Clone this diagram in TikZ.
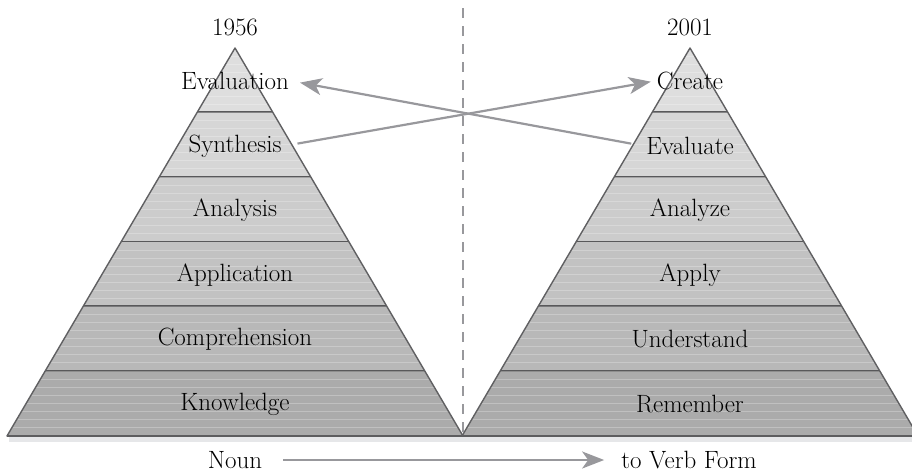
\documentclass[tikz,border=0pt]{standalone}
\usetikzlibrary{arrows.meta}
\definecolor{edgegray}{RGB}{96,96,98}
\definecolor{tiergray}{RGB}{88,88,90}
\definecolor{arrowgray}{RGB}{152,152,156}
\definecolor{shadowgray}{RGB}{230,231,233}

\tikzset{
  tierlabel/.style={font=\fontsize{25}{30}\selectfont, inner sep=2pt},
  flow/.style={draw=arrowgray, line width=2.2pt, -{Stealth[length=22pt,width=17pt,inset=6pt]}},
}

\begin{document}
\begin{tikzpicture}[x=1pt,y=-1pt]
  \useasboundingbox (0,0) rectangle (912,472);

  % shadows under the bases
  \foreach \cx in {235,690}{
    \fill[shadowgray] (\cx-226,436) rectangle (\cx+230,442);
  }

  % the two pyramids, six tiers each
  \foreach \cx in {235,690}{
    \foreach \k/\lvl in {0/13,1/16,2/20,3/24,4/28,5/33}{
      \pgfmathsetmacro\yt{48+64.667*\k}
      \pgfmathsetmacro\yb{\yt+64.667}
      \pgfmathsetmacro\wt{38*\k}
      \pgfmathsetmacro\wb{38*(\k+1)}
      \fill[black!\lvl] (\cx-\wt,\yt) -- (\cx+\wt,\yt) -- (\cx+\wb,\yb) -- (\cx-\wb,\yb) -- cycle;
      \foreach \j in {1,...,7}{
        \pgfmathsetmacro\ys{\yt+8*\j}
        \pgfmathsetmacro\ws{0.5876*(\ys-48)}
        \draw[white, opacity=0.25, line width=0.6pt] (\cx-\ws,\ys) -- (\cx+\ws,\ys);
      }
      \draw[tiergray, line width=2.4pt] (\cx-\wb,\yb) -- (\cx+\wb,\yb);
    }
    \draw[edgegray, line width=1.4pt, line join=round] (\cx,48) -- (\cx+228,436) -- (\cx-228,436) -- cycle;
  }

  \draw[arrowgray, line width=1.6pt, dash pattern=on 10pt off 8pt] (463,8) -- (463,436);

  \node[tierlabel] (y1956) at (235,27) {1956};
  \node[tierlabel] (y2001) at (690,27) {2001};

  \node[tierlabel] (evaluation) at (235,81) {Evaluation};
  \node[tierlabel] (synthesis) at (235,146) {Synthesis};
  \node[tierlabel] (analysis) at (235,210) {Analysis};
  \node[tierlabel] (application) at (235,275) {Application};
  \node[tierlabel] (comprehension) at (235,339) {Comprehension};
  \node[tierlabel] (knowledge) at (235,404) {Knowledge};

  \node[tierlabel] (create) at (690,81) {Create};
  \node[tierlabel] (evaluate) at (690,146) {Evaluate};
  \node[tierlabel] (analyze) at (690,210) {Analyze};
  \node[tierlabel] (apply) at (690,275) {Apply};
  \node[tierlabel] (understand) at (690,339) {Understand};
  \node[tierlabel] (remember) at (690,404) {Remember};

  \draw[flow, shorten <=14pt, shorten >=4pt] (synthesis.east) -- (create.west);
  \draw[flow, shorten <=13pt, shorten >=9pt] (evaluate.west) -- (evaluation.east);

  \node[tierlabel] (noun) at (235,460) {Noun};
  \node[tierlabel] (verbform) at (689,460) {to Verb Form};
  \draw[flow, shorten <=19pt, shorten >=15pt] (noun) -- (verbform);
\end{tikzpicture}
\end{document}
